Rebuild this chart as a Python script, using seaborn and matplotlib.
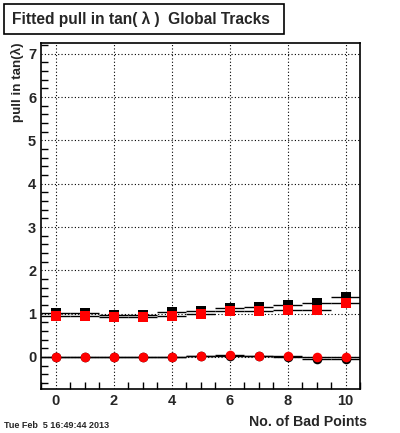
import matplotlib
matplotlib.use("Agg")
import matplotlib.pyplot as plt
import seaborn as sns
import numpy as np
import pandas as pd
from matplotlib.ticker import MultipleLocator
from matplotlib.patches import Rectangle

bad_points = [0, 1, 2, 3, 4, 5, 6, 7, 8, 9, 10]
sigma_black = [1.02, 1.02, 0.98, 0.98, 1.04, 1.06, 1.14, 1.15, 1.20, 1.24, 1.38]
sigma_red = [0.95, 0.95, 0.92, 0.92, 0.95, 1.00, 1.05, 1.07, 1.09, 1.09, 1.24]
mean_black = [0.0, 0.0, -0.01, -0.01, -0.01, 0.02, 0.03, 0.02, 0.01, -0.04, -0.05]
mean_red = [0.0, 0.0, -0.01, -0.01, -0.01, 0.02, 0.04, 0.02, 0.02, -0.01, -0.01]

sns.set_style("white")
plt.rcParams['font.family'] = ['Liberation Sans', 'DejaVu Sans']

fig = plt.figure(figsize=(4.0, 4.33), dpi=100)
ax = fig.add_axes([41/400, 44/433, 319/400, 346/433])

df = pd.DataFrame({"x": bad_points, "sb": sigma_black, "sr": sigma_red,
                   "mb": mean_black, "mr": mean_red})

for col in ["sb", "sr", "mb", "mr"]:
    ax.errorbar(df["x"], df[col], xerr=0.5, fmt='none', ecolor='black', lw=1.0, zorder=2)

sns.scatterplot(data=df, x="x", y="sb", marker="s", color="black", s=46, linewidth=0, ax=ax, zorder=3)
sns.scatterplot(data=df, x="x", y="sr", marker="s", color="red", s=46, linewidth=0, ax=ax, zorder=4)
sns.scatterplot(data=df, x="x", y="mb", marker="o", color="black", s=48, linewidth=0, ax=ax, zorder=3)
sns.scatterplot(data=df, x="x", y="mr", marker="o", color="red", s=48, linewidth=0, ax=ax, zorder=4)

ax.set_xlim(-0.5, 10.5)
ax.set_ylim(-0.74, 7.25)
ax.xaxis.set_major_locator(MultipleLocator(2))
ax.xaxis.set_minor_locator(MultipleLocator(0.5))
ax.yaxis.set_major_locator(MultipleLocator(1))
ax.yaxis.set_minor_locator(MultipleLocator(0.2))
ax.grid(True, which='major', linestyle=(0, (1, 2)), color='black', lw=0.8)
ax.set_axisbelow(True)
ax.tick_params(which='both', direction='in', color='black', top=False, right=False,
               labelsize=10.5)
ax.tick_params(which='major', length=9, width=1)
ax.tick_params(which='minor', length=5, width=1, left=True, bottom=True)
for lab in ax.get_xticklabels() + ax.get_yticklabels():
    lab.set_fontweight('bold')
for s in ax.spines.values():
    s.set_color('black')
    s.set_linewidth(1.2)
ax.set_xlabel("")
ax.set_ylabel("")

fig.text(367/400, 1 - 422/433, "No. of Bad Points", ha='right', va='center',
         fontsize=10.2, fontweight='bold')
fig.text(17/400, 1 - 43/433, "pull in tan(λ)", rotation=90, ha='center', va='top',
         fontsize=9.6, fontweight='bold')
fig.text(4/400, 1 - 425/433, "Tue Feb  5 16:49:44 2013", ha='left', va='center',
         fontsize=6.5, fontweight='bold')

fig.patches.append(Rectangle((4/400, 1 - 34/433), 280/400, 30/433, transform=fig.transFigure,
                             fill=True, facecolor='white', edgecolor='black', lw=1.2))
fig.text(12/400, 1 - 19/433, "Fitted pull in tan( λ )  Global Tracks", ha='left', va='center',
         fontsize=11.2, fontweight='bold')

fig.savefig("out.png", dpi=100)
